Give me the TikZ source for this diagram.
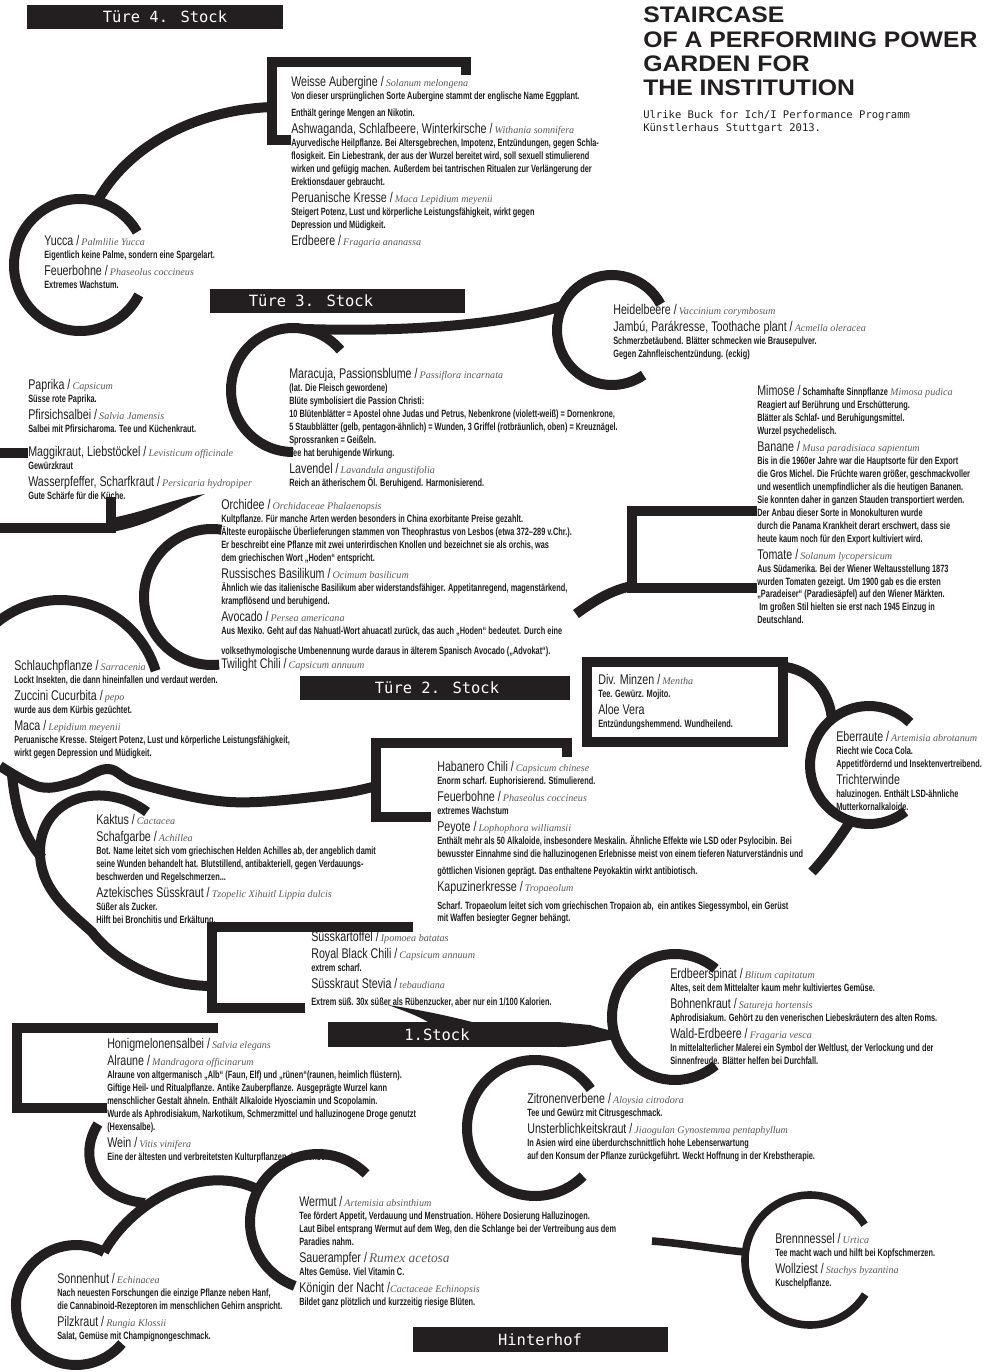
\documentclass[tikz,border=0pt]{standalone}
\usepackage{fontspec}
\setmainfont{Liberation Sans}
\newfontfamily\bodyfont{Liberation Sans}[FakeStretch=0.70]
\newfontfamily\ttlfont{Liberation Sans}[FakeStretch=0.76]
\newfontfamily\latfont{Liberation Serif}
\newfontfamily\monofont{DejaVu Sans Mono}
\newfontfamily\headfont{Liberation Sans}[FakeStretch=1.1]
\usepackage{tikz}

\definecolor{ink}{HTML}{231F20}
\definecolor{latin}{HTML}{5A5A5A}
\newcommand{\herb}[2]{{\ttlfont\mdseries\fontsize{10}{10}\selectfont #1 /} {\latfont\itshape\mdseries\color{latin}\fontsize{7.2}{8}\selectfont #2}}
\newcommand{\herbonly}[1]{{\ttlfont\mdseries\fontsize{10}{10}\selectfont #1}}

\tikzset{
	stem/.style={line width=0.25cm, draw=ink},
	thinstem/.style={line width=0.19cm, draw=ink},
	herbs/.style={anchor=north west, inner sep=0pt, align=left, text=ink, font=\bodyfont\bfseries\fontsize{7.5}{9.2}\selectfont},
	banner/.style={text=white, inner sep=0pt, font=\monofont\fontsize{11}{11}\selectfont},
}

\begin{document}
\begin{tikzpicture}[x=0.025cm, y=0.025cm]
	
	\useasboundingbox (0,0) rectangle (1000,-1372);
	\fill[white] (0,0) rectangle (1000,-1372);
	
	\coordinate (yucca) at (80,-265);
	\coordinate (passion) at (293,-390);
	\coordinate (heidel) at (612,-330);
	\coordinate (orchid) at (212,-597);
	\coordinate (sarrac) at (60,-700);
	\coordinate (eberr) at (869,-765);
	\coordinate (erdsp) at (675,-1017);
	\coordinate (zitro) at (535,-1128);
	\coordinate (wermut) at (318,-1222);
	\coordinate (sonne) at (76,-1305);
	\coordinate (nessel) at (810,-1260);
	
	\fill[ink] (27,-5) rectangle (283,-29);
	\fill[ink] (210,-289) rectangle (465,-313);
	\fill[ink] (300,-676) rectangle (570,-700);
	\fill[ink] (328,-1022) rectangle (560,-1047);
	\fill[ink] (413,-1327) rectangle (668,-1352);
	
	\draw[stem] (466,-75) |- (272,-62) |- (291,-140);
	\draw[stem] (272,-107) .. controls (190,-110) and (125,-150) .. (97,-202);
	\draw[stem] (yucca) ++(30:66) arc[start angle=30, end angle=333, radius=66];
	
	\draw[stem] (passion) ++(40:62) arc[start angle=40, end angle=270, radius=62];
	\draw[stem] (305,-329) .. controls (400,-332) and (500,-326) .. (562,-306);
	\draw[stem] (heidel) ++(28:55) arc[start angle=28, end angle=305, radius=55];
	
	\draw[stem] (0,-453) -- (28,-453);
	\draw[stem] (0,-528) -| (111,-497);
	\fill[ink] (111,-518) .. controls (145,-512) and (175,-498) .. (205,-494) .. controls (180,-506) and (150,-526) .. (111,-532) -- cycle;
	
	\draw[stem] (orchid) ++(82:68) arc[start angle=82, end angle=276, radius=68];
	\draw[stem] (sarrac) ++(130:100) arc[start angle=130, end angle=17, radius=100];
	
	\draw[stem] (757,-511) -| (632,-588) -- (757,-588);
	\draw[stem] (576,-614) .. controls (595,-600) and (612,-590) .. (632,-586);
	
	\draw[stem] (587,-662) rectangle (783,-742);
	\draw[stem] (786,-667) .. controls (815,-672) and (830,-695) .. (832,-720);
	\draw[stem] (eberr) ++(46:59) arc[start angle=46, end angle=308, radius=59];
	\draw[stem] (850,-822) .. controls (838,-840) and (825,-858) .. (812,-872);
	
	\draw[stem] plot[smooth, tension=0.6] coordinates {(0,-766) (40,-787) (75,-782) (108,-769) (140,-784) (230,-802) (330,-795) (376,-786)};
	\draw[stem] (567,-757) |- (376,-743) |- (431,-817);
	\draw[stem] (12,-775) .. controls (16,-815) and (25,-838) .. (42,-858);
	\draw[stem] (147,-812) .. controls (105,-780) and (40,-795) .. (40,-852) .. controls (40,-890) and (70,-912) .. (92,-932) .. controls (115,-962) and (160,-986) .. (212,-986);
	
	\draw[stem] (413,-927) -| (212,-1008) -- (305,-1008);
	\fill[ink] (388,-1005) .. controls (420,-1010) and (445,-1015) .. (472,-1022) -- (428,-1022) .. controls (418,-1016) and (405,-1011) .. (388,-1005) -- cycle;
	\fill[ink] (558,-1022) -- (590,-1025) .. controls (600,-1028) and (608,-1030) .. (617,-1032) -- (617,-1039) .. controls (598,-1041) and (582,-1047) .. (558,-1047) -- cycle;
	\draw[stem] (erdsp) ++(50:63) arc[start angle=50, end angle=310, radius=63];
	
	\draw[stem] (218,-1028) -| (17,-1108) -- (107,-1108);
	\draw[stem] (98,-1124) .. controls (78,-1155) and (92,-1198) .. (145,-1203);
	\draw[stem] (sonne) ++(62:60) arc[start angle=62, end angle=320, radius=60];
	\draw[stem] (104,-1252) .. controls (130,-1205) and (200,-1160) .. (259,-1190);
	\draw[stem] (wermut) ++(45:68) arc[start angle=45, end angle=250, radius=68];
	\draw[stem] (zitro) ++(35:68) arc[start angle=35, end angle=315, radius=68];
	
	\draw[thinstem] (652,-1241) .. controls (690,-1244) and (720,-1250) .. (746,-1252);
	\draw[thinstem] (nessel) ++(33:65) arc[start angle=33, end angle=328, radius=65];
	
	\node[banner] (door4) at (165,-17) {Türe 4. Stock};
	\node[banner] (door3) at (311,-301) {Türe 3. Stock};
	\node[banner] (door2) at (437,-688) {Türe 2. Stock};
	\node[banner] (floor1) at (437,-1035) {1.Stock};
	\node[banner] (yard) at (540,-1340) {Hinterhof};
	
	\node[anchor=north west, inner sep=0pt, align=left, text=ink, font=\headfont\bfseries\fontsize{16}{17.2}\selectfont] (title) at (643,-7) {STAIRCASE\\OF A PERFORMING POWER\\GARDEN FOR\\THE INSTITUTION};
	\node[anchor=north west, inner sep=0pt, align=left, text=ink, font=\monofont\fontsize{7.5}{9.6}\selectfont] (credit) at (643,-110) {Ulrike Buck for Ich/I Performance Programm\\Künstlerhaus Stuttgart 2013.};
	
	\node[herbs] (aubergine) at (291,-76) {\herb{Weisse Aubergine}{Solanum melongena}\\
		Von dieser ursprünglichen Sorte Aubergine stammt der englische Name Eggplant.\\[3pt]
		Enthält geringe Mengen an Nikotin.\\[3pt]
		\herb{Ashwaganda, Schlafbeere, Winterkirsche}{Withania somnifera}\\
		Ayurvedische Heilpflanze. Bei Altersgebrechen, Impotenz, Entzündungen, gegen Schla-\\
		flosigkeit. Ein Liebestrank, der aus der Wurzel bereitet wird, soll sexuell stimulierend\\
		wirken und gefügig machen. Außerdem bei tantrischen Ritualen zur Verlängerung der\\
		Erektionsdauer gebraucht.\\[3pt]
		\herb{Peruanische Kresse}{Maca Lepidium meyenii}\\
		Steigert Potenz, Lust und körperliche Leistungsfähigkeit, wirkt gegen\\
		Depression und Müdigkeit.\\[3pt]
		\herb{Erdbeere}{Fragaria ananassa}};
	
	\node[herbs] (yuccatext) at (44,-235) {\herb{Yucca}{Palmlilie Yucca}\\
		Eigentlich keine Palme, sondern eine Spargelart.\\[3pt]
		\herb{Feuerbohne}{Phaseolus coccineus}\\
		Extremes Wachstum.};
	
	\node[herbs] (maracuja) at (289,-368) {\herb{Maracuja, Passionsblume}{Passiflora incarnata}\\
		(lat. Die Fleisch gewordene)\\
		Blüte symbolisiert die Passion Christi:\\
		10 Blütenblätter = Apostel ohne Judas und Petrus, Nebenkrone (violett-weiß) = Dornenkrone,\\
		5 Staubblätter (gelb, pentagon-ähnlich) = Wunden, 3 Griffel (rotbräunlich, oben) = Kreuznägel.\\
		Sprossranken = Geißeln.\\
		Tee hat beruhigende Wirkung.\\[3pt]
		\herb{Lavendel}{Lavandula angustifolia}\\
		Reich an ätherischem Öl. Beruhigend. Harmonisierend.};
	
	\node[herbs] (heideltext) at (613,-304) {\herb{Heidelbeere}{Vaccinium corymbosum}\\[3pt]
		\herb{Jambú, Parákresse, Toothache plant}{Acmella oleracea}\\
		Schmerzbetäubend. Blätter schmecken wie Brausepulver.\\
		Gegen Zahnfleischentzündung. (eckig)};
	
	\node[herbs] (paprika) at (28,-379) {\herb{Paprika}{Capsicum}\\
		Süsse rote Paprika.\\[3pt]
		\herb{Pfirsichsalbei}{Salvia Jamensis}\\
		Salbei mit Pfirsicharoma. Tee und Küchenkraut.\\[8pt]
		\herb{Maggikraut, Liebstöckel}{Levisticum officinale}\\
		Gewürzkraut\\[3pt]
		\herb{Wasserpfeffer, Scharfkraut}{Persicaria hydropiper}\\
		Gute Schärfe für die Küche.};
	
	\node[herbs] (mimose) at (757,-385) {{\ttlfont\mdseries\fontsize{10}{10}\selectfont Mimose /} Schamhafte Sinnpflanze {\latfont\itshape\mdseries\color{latin}\fontsize{7.2}{8}\selectfont Mimosa pudica}\\
		Reagiert auf Berührung und Erschütterung.\\
		Blätter als Schlaf- und Beruhigungsmittel.\\
		Wurzel psychedelisch.\\[3pt]
		\herb{Banane}{Musa paradisiaca sapientum}\\
		Bis in die 1960er Jahre war die Hauptsorte für den Export\\
		die Gros Michel. Die Früchte waren größer, geschmackvoller\\
		und wesentlich unempfindlicher als die heutigen Bananen.\\
		Sie konnten daher in ganzen Stauden transportiert werden.\\
		Der Anbau dieser Sorte in Monokulturen wurde\\
		durch die Panama Krankheit derart erschwert, dass sie\\
		heute kaum noch für den Export kultiviert wird.\\[3pt]
		\herb{Tomate}{Solanum lycopersicum}\\
		Aus Südamerika. Bei der Wiener Weltausstellung 1873\\
		wurden Tomaten gezeigt. Um 1900 gab es die ersten\\
		„Paradeiser“ (Paradiesäpfel) auf den Wiener Märkten.\\
		\ Im großen Stil hielten sie erst nach 1945 Einzug in\\
		Deutschland.};
	
	\node[herbs] (orchidee) at (221,-499) {\herb{Orchidee}{Orchidaceae Phalaenopsis}\\
		Kultpflanze. Für manche Arten werden besonders in China exorbitante Preise gezahlt.\\
		Älteste europäische Überlieferungen stammen von Theophrastus von Lesbos (etwa 372–289 v.Chr.).\\
		Er beschreibt eine Pflanze mit zwei unterirdischen Knollen und bezeichnet sie als orchis, was\\
		dem griechischen Wort „Hoden“ entspricht.\\[3pt]
		\herb{Russisches Basilikum}{Ocimum basilicum}\\
		Ähnlich wie das italienische Basilikum aber widerstandsfähiger. Appetitanregend, magenstärkend,\\
		krampflösend und beruhigend.\\[3pt]
		\herb{Avocado}{Persea americana}\\
		Aus Mexiko. Geht auf das Nahuatl-Wort ahuacatl zurück, das auch „Hoden“ bedeutet. Durch eine\\[5pt]
		volksethymologische Umbenennung wurde daraus in älterem Spanisch Avocado („Advokat“).\\[1pt]
		\herb{Twilight Chili}{Capsicum annuum}};
	
	\node[herbs] (schlauch) at (14,-660) {\herb{Schlauchpflanze}{Sarracenia}\\
		Lockt Insekten, die dann hineinfallen und verdaut werden.\\[3pt]
		\herb{Zuccini Cucurbita}{pepo}\\
		wurde aus dem Kürbis gezüchtet.\\[3pt]
		\herb{Maca}{Lepidium meyenii}\\
		Peruanische Kresse. Steigert Potenz, Lust und körperliche Leistungsfähigkeit,\\
		wirkt gegen Depression und Müdigkeit.};
	
	\node[herbs] (minzen) at (598,-674) {\herb{Div. Minzen}{Mentha}\\
		Tee. Gewürz. Mojito.\\[3pt]
		\herbonly{Aloe Vera}\\
		Entzündungshemmend. Wundheilend.};
	
	\node[herbs] (eberraute) at (836,-731) {\herb{Eberraute}{Artemisia abrotanum}\\
		Riecht wie Coca Cola.\\
		Appetitfördernd und Insektenvertreibend.\\[3pt]
		\herbonly{Trichterwinde}\\
		haluzinogen. Enthält LSD-ähnliche\\
		Mutterkornalkaloide.};
	
	\node[herbs] (habanero) at (437,-761) {\herb{Habanero Chili}{Capsicum chinese}\\
		Enorm scharf. Euphorisierend. Stimulierend.\\[3pt]
		\herb{Feuerbohne}{Phaseolus coccineus}\\
		extremes Wachstum\\[3pt]
		\herb{Peyote}{Lophophora williamsii}\\
		Enthält mehr als 50 Alkaloide, insbesondere Meskalin. Ähnliche Effekte wie LSD oder Psylocibin. Bei\\
		bewusster Einnahme sind die halluzinogenen Erlebnisse meist von einem tieferen Naturverständnis und\\[3pt]
		göttlichen Visionen geprägt. Das enthaltene Peyokaktin wirkt antibiotisch.\\[3pt]
		\herb{Kapuzinerkresse}{Tropaeolum}\\[3pt]
		Scharf. Tropaeolum leitet sich vom griechischen Tropaion ab,\ \ ein antikes Siegessymbol, ein Gerüst\\
		mit Waffen besiegter Gegner behängt.};
	
	\node[herbs] (kaktus) at (96,-814) {\herb{Kaktus}{Cactacea}\\[3pt]
		\herb{Schafgarbe}{Achillea}\\
		Bot. Name leitet sich vom griechischen Helden Achilles ab, der angeblich damit\\
		seine Wunden behandelt hat. Blutstillend, antibakteriell, gegen Verdauungs-\\
		beschwerden und Regelschmerzen...\\[3pt]
		\herb{Aztekisches Süsskraut}{Tzopelic Xihuitl Lippia dulcis}\\
		Süßer als Zucker.\\
		Hilft bei Bronchitis und Erkältung.};
	
	\node[herbs] (suesskartoffel) at (311,-931) {\herb{Süsskartoffel}{Ipomoea batatas}\\[3pt]
		\herb{Royal Black Chili}{Capsicum annuum}\\
		extrem scharf.\\[3pt]
		\herb{Süsskraut Stevia}{tebaudiana}\\[3pt]
		Extrem süß. 30x süßer als Rübenzucker, aber nur ein 1/100 Kalorien.};
	
	\node[herbs] (erdbeerspinat) at (670,-968) {\herb{Erdbeerspinat}{Blitum capitatum}\\
		Altes, seit dem Mittelalter kaum mehr kultiviertes Gemüse.\\[3pt]
		\herb{Bohnenkraut}{Satureja hortensis}\\
		Aphrodisiakum. Gehört zu den venerischen Liebeskräutern des alten Roms.\\[3pt]
		\herb{Wald-Erdbeere}{Fragaria vesca}\\
		In mittelalterlicher Malerei ein Symbol der Weltlust, der Verlockung und der\\
		Sinnenfreude. Blätter helfen bei Durchfall.};
	
	\node[herbs] (alraune) at (107,-1038) {\herb{Honigmelonensalbei}{Salvia elegans}\\[2pt]
		\herb{Alraune}{Mandragora officinarum}\\
		Alraune von altgermanisch „Alb“ (Faun, Elf) und „rünen“(raunen, heimlich flüstern).\\
		Giftige Heil- und Ritualpflanze. Antike Zauberpflanze. Ausgeprägte Wurzel kann\\
		menschlicher Gestalt ähneln. Enthält Alkaloide Hyosciamin und Scopolamin.\\
		Wurde als Aphrodisiakum, Narkotikum, Schmerzmittel und halluzinogene Droge genutzt\\
		(Hexensalbe).\\[3pt]
		\herb{Wein}{Vitis vinifera}\\
		Eine der ältesten und verbreitetsten Kulturpflanzen der Menschheit.};
	
	\node[herbs] (zitronen) at (527,-1093) {\herb{Zitronenverbene}{Aloysia citrodora}\\
		Tee und Gewürz mit Citrusgeschmack.\\[3pt]
		\herb{Unsterblichkeitskraut}{Jiaogulan Gynostemma pentaphyllum}\\
		In Asien wird eine überdurchschnittlich hohe Lebenserwartung\\
		auf den Konsum der Pflanze zurückgeführt. Weckt Hoffnung in der Krebstherapie.};
	
	\node[herbs] (wermuttext) at (299,-1196) {\herb{Wermut}{Artemisia absinthium}\\
		Tee fördert Appetit, Verdauung und Menstruation. Höhere Dosierung Halluzinogen.\\
		Laut Bibel entsprang Wermut auf dem Weg, den die Schlange bei der Vertreibung aus dem\\
		Paradies nahm.\\[3pt]
		{\ttlfont\mdseries\fontsize{10}{10}\selectfont Sauerampfer /} {\latfont\itshape\mdseries\color{latin}\fontsize{9.5}{10}\selectfont Rumex acetosa}\\
		Altes Gemüse. Viel Vitamin C.\\[3pt]
		{\ttlfont\mdseries\fontsize{10}{10}\selectfont Königin der Nacht /}{\latfont\itshape\mdseries\color{latin}\fontsize{7.2}{8}\selectfont Cactaceae Echinopsis}\\
		Bildet ganz plötzlich und kurzzeitig riesige Blüten.};
	
	\node[herbs] (nesseltext) at (775,-1233) {\herb{Brennnessel}{Urtica}\\
		Tee macht wach und hilft bei Kopfschmerzen.\\[3pt]
		\herb{Wollziest}{Stachys byzantina}\\
		Kuschelpflanze.};
	
	\node[herbs] (sonnenhut) at (57,-1273) {\herb{Sonnenhut}{Echinacea}\\
		Nach neuesten Forschungen die einzige Pflanze neben Hanf,\\
		die Cannabinoid-Rezeptoren im menschlichen Gehirn anspricht.\\[3pt]
		\herb{Pilzkraut}{Rungia Klossii}\\
		Salat, Gemüse mit Champignongeschmack.};
	
\end{tikzpicture}
\end{document}
